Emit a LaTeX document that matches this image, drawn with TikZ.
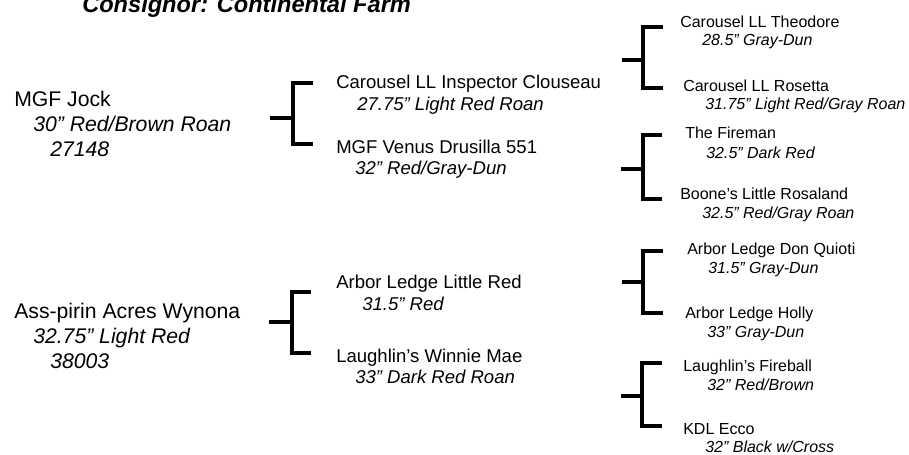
\documentclass[tikz,border=0pt]{standalone}
\usepackage{fontspec}
\setmainfont{Liberation Sans}
\usepackage{tikz}
\usetikzlibrary{
    calc,
    positioning
}
\tikzset{
    title/.style={anchor=base west, inner sep=0pt, font=\fontsize{17.7}{21}\selectfont\bfseries\itshape},
    gen1/.style={anchor=base west, inner sep=0pt, font=\fontsize{15.9}{19}\selectfont},
    gen1i/.style={gen1, font=\fontsize{15.9}{19}\selectfont\itshape},
    gen2/.style={anchor=base west, inner sep=0pt, font=\fontsize{13.9}{17}\selectfont},
    gen2i/.style={gen2, font=\fontsize{13.9}{17}\selectfont\itshape},
    gen3/.style={anchor=base west, inner sep=0pt, font=\fontsize{12}{14}\selectfont},
    gen3i/.style={gen3, font=\fontsize{12}{14}\selectfont\itshape},
    bracket/.style={line width=3pt}
}

\begin{document}
\begin{tikzpicture}[x=0.75pt, y=-0.75pt]
                        \useasboundingbox (0, 0) rectangle (909, 454);

                        \node[title] (head) at (82, 12) {Consignor: Continental Farm};

                        % sire and dam
                        \node[gen1] (s) at (14, 106) {MGF Jock};
                        \node[gen1i] (s-ht) at (33, 131) {30” Red/Brown Roan};
                        \node[gen1i] (s-reg) at (50, 156) {27148};
                        \node[gen1] (d) at (14, 318) {Ass-pirin Acres Wynona};
                        \node[gen1i] (d-ht) at (33, 343) {32.75” Light Red};
                        \node[gen1i] (d-reg) at (50, 368) {38003};

                        % grandparents
                        \node[gen2] (ss) at (336, 88) {Carousel LL Inspector Clouseau};
                        \node[gen2i] (ss-ht) at (357, 110) {27.75” Light Red Roan};
                        \node[gen2] (sd) at (336, 153) {MGF Venus Drusilla 551};
                        \node[gen2i] (sd-ht) at (355, 174) {32” Red/Gray-Dun};
                        \node[gen2] (ds) at (336, 288) {Arbor Ledge Little Red};
                        \node[gen2i] (ds-ht) at (362, 310) {31.5” Red};
                        \node[gen2] (dd) at (336, 362) {Laughlin’s Winnie Mae};
                        \node[gen2i] (dd-ht) at (355, 383) {33” Dark Red Roan};

                        % great-grandparents
                        \node[gen3] (sss) at (680, 27) {Carousel LL Theodore};
                        \node[gen3i] (sss-ht) at (702, 45) {28.5” Gray-Dun};
                        \node[gen3] (ssd) at (683, 91) {Carousel LL Rosetta};
                        \node[gen3i] (ssd-ht) at (705, 109) {31.75” Light Red/Gray Roan};
                        \node[gen3] (sds) at (685, 138) {The Fireman};
                        \node[gen3i] (sds-ht) at (706, 158) {32.5” Dark Red};
                        \node[gen3] (sdd) at (680, 199) {Boone’s Little Rosaland};
                        \node[gen3i] (sdd-ht) at (702, 218) {32.5” Red/Gray Roan};
                        \node[gen3] (dss) at (687, 254) {Arbor Ledge Don Quioti};
                        \node[gen3i] (dss-ht) at (708, 273) {31.5” Gray-Dun};
                        \node[gen3] (dsd) at (685, 318) {Arbor Ledge Holly};
                        \node[gen3i] (dsd-ht) at (707, 337) {33” Gray-Dun};
                        \node[gen3] (dds) at (683, 371) {Laughlin’s Fireball};
                        \node[gen3i] (dds-ht) at (707, 390) {32” Red/Brown};
                        \node[gen3] (ddd) at (683, 434) {KDL Ecco};
                        \node[gen3i] (ddd-ht) at (705, 452) {32” Black w/Cross};

                        % bracket ends
                        \coordinate (s-top) at (313, 83);
                        \coordinate (s-bot) at (313, 144);
                        \coordinate (s-stem) at (270, 118);
                        \coordinate (d-top) at (311, 292);
                        \coordinate (d-bot) at (311, 353);
                        \coordinate (d-stem) at (269, 322);
                        \coordinate (ss-top) at (663, 27);
                        \coordinate (ss-bot) at (663, 88);
                        \coordinate (ss-stem) at (622, 60);
                        \coordinate (sd-top) at (662, 135);
                        \coordinate (sd-bot) at (662, 199);
                        \coordinate (sd-stem) at (621, 169);
                        \coordinate (ds-top) at (663, 251);
                        \coordinate (ds-bot) at (663, 313);
                        \coordinate (ds-stem) at (622, 282);
                        \coordinate (dd-top) at (662, 363);
                        \coordinate (dd-bot) at (662, 426);
                        \coordinate (dd-stem) at (621, 396);

                        \draw[bracket]
                        (s-top) -- ++(-20, 0) |- (s-bot)
                        (s-stem) -- ++(23, 0)
                        (d-top) -- ++(-19, 0) |- (d-bot)
                        (d-stem) -- ++(23, 0)
                        (ss-top) -- ++(-20, 0) |- (ss-bot)
                        (ss-stem) -- ++(21, 0)
                        (sd-top) -- ++(-19, 0) |- (sd-bot)
                        (sd-stem) -- ++(22, 0)
                        (ds-top) -- ++(-20, 0) |- (ds-bot)
                        (ds-stem) -- ++(21, 0)
                        (dd-top) -- ++(-20, 0) |- (dd-bot)
                        (dd-stem) -- ++(21, 0);
                    \end{tikzpicture}
\end{document}
